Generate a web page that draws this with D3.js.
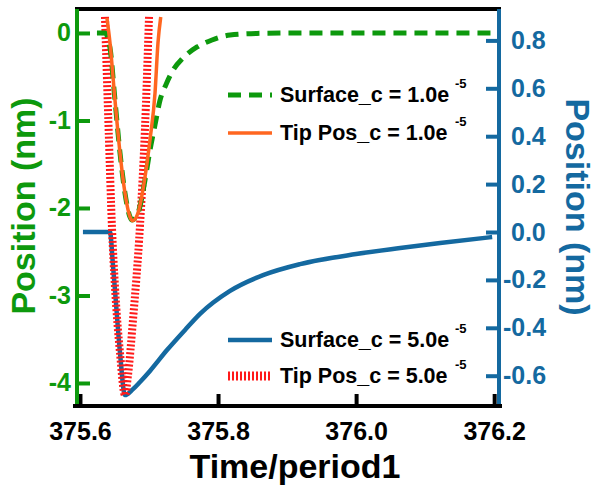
<!DOCTYPE html>
<html>
<head>
<meta charset="utf-8">
<script src="https://cdn.jsdelivr.net/npm/d3@7"></script>
<style>
  html, body { margin: 0; padding: 0; background: #fff; }
  svg text { font-family: "Liberation Sans", Arial, sans-serif; font-weight: bold; }
</style>
</head>
<body>
<svg id="chart" width="596" height="490"></svg>
<script>
// Surface_c = 1.0e-5 (left axis, nm)
const timeSurf1 = [375.6246, 375.6362, 375.6435, 375.6507, 375.658, 375.6652, 375.6725, 375.6754,
  375.6841, 375.6942, 375.7014, 375.7087, 375.7159, 375.7246, 375.7333, 375.7493, 375.7696,
  375.7913, 375.8174, 375.8565, 375.9188, 376.1986];
const surf1 = [0, 0, -0.17, -0.766, -1.371, -1.829, -2.103, -2.137,
  -2.057, -1.68, -1.34, -1.05, -0.77, -0.59, -0.446, -0.286, -0.16,
  -0.08, -0.023, -0.005, 0, 0];

// Tip Pos_c = 1.0e-5 (left axis, nm)
const timeTip1 = [375.6391, 375.6435, 375.6507, 375.658, 375.6652, 375.6725, 375.6764,
  375.684, 375.6942, 375.7014, 375.7087, 375.713, 375.717];
const tip1 = [0.171, -0.114, -0.766, -1.371, -1.829, -2.103, -2.145,
  -2.057, -1.646, -1.223, -0.686, -0.114, 0.183];

// Tip Pos_c = 5.0e-5 (left axis, nm)
const timeTip5 = [375.6362, 375.6413, 375.6464, 375.6507, 375.658, 375.6652,
  375.6696, 375.6768, 375.687, 375.6942, 375.700];
const tip5 = [0.183, -1.05, -2.23, -2.90, -3.657, -4.137,
  -3.909, -3.28, -2.194, -1.086, 0.183];

// Surface_c = 5.0e-5 (right axis, nm)
const timeSurf5 = [375.6043, 375.6435, 375.6478, 375.6507, 375.658, 375.6652, 375.6768,
  375.687, 375.7014, 375.7261, 375.7522, 375.7739, 375.8174, 375.8652, 375.9188,
  376.0, 376.0638, 376.1217, 376.1971];
const surf5 = [0, 0, -0.138, -0.242, -0.505, -0.681, -0.656,
  -0.626, -0.580, -0.493, -0.409, -0.342, -0.246, -0.180, -0.134,
  -0.092, -0.067, -0.046, -0.021];

const xTicks = [375.6, 375.8, 376.0, 376.2];
const leftTicks = [-4, -3, -2, -1, 0];
const rightTicks = [-0.6, -0.4, -0.2, 0.0, 0.2, 0.4, 0.6, 0.8];

const legendLabels = ["Surface_c = 1.0e", "Tip Pos_c = 1.0e", "Surface_c = 5.0e", "Tip Pos_c = 5.0e"];
const legendExp = ["-5", "-5", "-5", "-5"];

const GREEN = "#0d990d", BLUE = "#1469a0", ORANGE = "#ff6620", RED = "#ff1a1a";

const svg = d3.select("#chart");
const L = 77, R = 499, T = 9, B = 406;

const x = d3.scaleLinear().domain([375.5957, 376.207]).range([L, R]);
const yL = d3.scaleLinear().domain([-4.263, 0.274]).range([B, T]);
const yR = d3.scaleLinear().domain([-0.7265, 0.9311]).range([B, T]);

// plain hyphen for negative tick labels
const hy = f => d => f(d).replace("\u2212", "-");

svg.append("defs").append("clipPath").attr("id", "plotClip")
  .append("rect").attr("x", L).attr("y", T).attr("width", R - L).attr("height", B - T);

const plot = svg.append("g").attr("clip-path", "url(#plotClip)");

function pts(xs, ys) { return xs.map((t, i) => [t, ys[i]]); }
const lineL = d3.line().x(d => x(d[0])).y(d => yL(d[1])).curve(d3.curveMonotoneX);
const lineR = d3.line().x(d => x(d[0])).y(d => yR(d[1])).curve(d3.curveMonotoneX);

// curves
plot.append("path").attr("d", lineR(pts(timeSurf5, surf5)))
  .attr("fill", "none").attr("stroke", BLUE).attr("stroke-width", 4.5);
plot.append("path").attr("d", lineL(pts(timeTip5, tip5)))
  .attr("fill", "none").attr("stroke", RED).attr("stroke-width", 8).attr("stroke-dasharray", "2,2");
plot.append("path").attr("d", lineL(pts(timeSurf1, surf1)))
  .attr("fill", "none").attr("stroke", GREEN).attr("stroke-width", 5).attr("stroke-dasharray", "13,8");
plot.append("path").attr("d", lineL(pts(timeTip1, tip1)))
  .attr("fill", "none").attr("stroke", ORANGE).attr("stroke-width", 3.5);

// axes
const axX = svg.append("g").attr("transform", `translate(0,${B})`)
  .call(d3.axisBottom(x).tickValues(xTicks).tickSizeInner(-12).tickSizeOuter(0).tickPadding(16).tickFormat(d3.format(".1f")));
axX.select(".domain").remove();
axX.selectAll(".tick line").attr("stroke", "#000").attr("stroke-width", 4);
axX.selectAll(".tick text").attr("font-size", 25).attr("fill", "#000")
  .attr("font-family", "Liberation Sans, Arial, sans-serif");

const axL = svg.append("g").attr("transform", `translate(${L},0)`)
  .call(d3.axisLeft(yL).tickValues(leftTicks).tickSizeInner(-13).tickSizeOuter(0).tickPadding(6).tickFormat(hy(d3.format("d"))));
axL.select(".domain").remove();
axL.selectAll(".tick line").attr("stroke", GREEN).attr("stroke-width", 4);
axL.selectAll(".tick text").attr("font-size", 25).attr("fill", GREEN)
  .attr("font-family", "Liberation Sans, Arial, sans-serif");

const axR = svg.append("g").attr("transform", `translate(${R},0)`)
  .call(d3.axisRight(yR).tickValues(rightTicks).tickSizeInner(-13).tickSizeOuter(0).tickPadding(12).tickFormat(hy(d3.format(".1f"))));
axR.select(".domain").remove();
axR.selectAll(".tick line").attr("stroke", BLUE).attr("stroke-width", 4);
axR.selectAll(".tick text").attr("font-size", 25).attr("fill", BLUE)
  .attr("font-family", "Liberation Sans, Arial, sans-serif");
// negative labels sit closer to the axis
axR.selectAll(".tick text").filter(d => d < 0).attr("x", 4);

// frame lines
svg.append("line").attr("x1", L - 2).attr("x2", R + 2).attr("y1", T).attr("y2", T)
  .attr("stroke", "#000").attr("stroke-width", 4);
svg.append("line").attr("x1", L).attr("x2", L).attr("y1", T).attr("y2", B)
  .attr("stroke", GREEN).attr("stroke-width", 4);
svg.append("line").attr("x1", R).attr("x2", R).attr("y1", T).attr("y2", B)
  .attr("stroke", BLUE).attr("stroke-width", 4);
svg.append("line").attr("x1", L - 4).attr("x2", R + 3).attr("y1", B).attr("y2", B)
  .attr("stroke", "#000").attr("stroke-width", 4);

// axis titles
svg.append("text").attr("x", 295).attr("y", 478).attr("text-anchor", "middle")
  .attr("font-size", 34).attr("fill", "#000").text("Time/period1");
svg.append("text").attr("transform", "translate(35,206) rotate(-90)").attr("text-anchor", "middle")
  .attr("font-size", 34).attr("fill", GREEN).text("Position (nm)");
svg.append("text").attr("transform", "translate(566,207) rotate(90)").attr("text-anchor", "middle")
  .attr("font-size", 34).attr("fill", BLUE).text("Position (nm)");

// legend
const legendY = [102, 140, 347, 383];
const legendStyle = [
  { stroke: GREEN, width: 5, dash: "13,8" },
  { stroke: ORANGE, width: 3.5, dash: null },
  { stroke: BLUE, width: 4.5, dash: null },
  { stroke: RED, width: 9, dash: "2,2" }
];
const leg = svg.append("g");
legendLabels.forEach((lab, i) => {
  const by = legendY[i];
  const s = legendStyle[i];
  leg.append("line").attr("x1", 228).attr("x2", 272).attr("y1", by - 7).attr("y2", by - 7)
    .attr("stroke", s.stroke).attr("stroke-width", s.width)
    .attr("stroke-dasharray", s.dash);
  leg.append("text").attr("x", 280).attr("y", by).attr("font-size", 21.5).attr("fill", "#000").text(lab);
  leg.append("text").attr("x", 455).attr("y", by - 14).attr("font-size", 13).attr("fill", "#000").text(legendExp[i]);
});
</script>
</body>
</html>
